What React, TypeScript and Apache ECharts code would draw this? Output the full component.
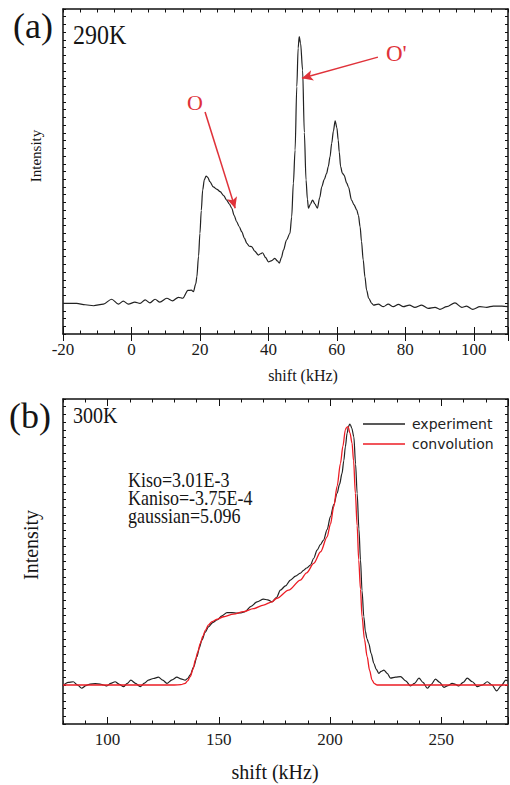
import React, { useEffect, useRef } from "react";
import * as echarts from "echarts";

// ---- Panel (a): 290K spectrum ----
const shiftA = [
  -20, -16, -13.5, -11.1, -8.2, -5.8, -3.8, -2.4, -0.9, 1.0, 2.5, 4.0, 5.4, 6.9, 8.3, 10.3, 12.0, 13.7,
  15.0, 16.5, 17.5, 18.1, 18.8, 19.1, 19.6, 20.0, 20.4, 20.8, 21.3, 21.8, 22.3, 22.9, 23.9, 25.0, 25.9,
  27.0, 27.8, 28.6, 29.3, 30.0, 30.7, 31.5, 32.2, 33.0, 33.7, 34.4, 35.1, 36.0, 37.1, 37.7, 38.3, 39.2,
  40.0, 41.0, 41.9, 42.6, 43.2, 43.8, 44.4, 45.3, 46.3, 46.8, 47.3, 47.8, 48.3, 48.7, 49.0, 49.4, 50.0,
  50.5, 51.0, 51.4, 51.7, 52.3, 52.9, 53.6, 54.3, 55.0, 55.6, 56.3, 57.0, 57.5, 58.0, 58.5, 59.0, 59.5,
  60.0, 60.4, 60.7, 61.1, 61.6, 62.1, 62.9, 63.4, 64.3, 65.0, 65.8, 66.3, 66.8, 67.2, 67.7, 68.2, 68.7,
  69.3, 70.2, 70.7, 72.1, 73.6, 75.0, 76.5, 78.0, 79.4, 81.2, 82.8, 84.8, 86.7, 88.7, 90.1, 92.1, 94.5,
  96.5, 97.9, 99.7, 101.8, 103.8, 105.7, 108.2, 110,
];
const intensityA = [
  9.4, 9.4, 9.0, 8.7, 9.2, 10.7, 9.2, 10.1, 9.2, 9.8, 9.4, 10.5, 9.6, 10.7, 9.8, 11.0, 10.2, 11.3,
  11.0, 13.4, 13.5, 13.0, 15.5, 17.6, 24, 31.0, 38, 44.3, 47.5, 48.6, 48.2, 46.9, 45.3, 44.5, 43.8,
  42.5, 41.2, 40.0, 38.7, 36.5, 34.6, 33.0, 31.5, 29.5, 27.9, 27.0, 26.9, 25.5, 24.3, 24.7, 25.0, 23.5,
  22.2, 22.6, 23.3, 22.5, 21.8, 23.5, 25.8, 28.9, 31.0, 36, 46.4, 56.6, 76.1, 88, 91.5, 89.5, 81.2,
  62, 47.4, 41.5, 38.7, 40.0, 41.2, 40.0, 38.7, 42, 45.3, 47.5, 49.4, 51.5, 54.5, 58.7, 62.5, 65.6,
  63.5, 59.7, 56, 51.5, 49.5, 48.9, 46.4, 45.2, 41.2, 39.8, 38.2, 36.5, 33.0, 28.5, 22.8, 17.6, 13.5,
  11.0, 9.4, 8.9, 9.2, 8.4, 9.2, 8.4, 9.1, 8.4, 8.9, 8.2, 8.9, 7.9, 8.2, 7.6, 8.4, 9.6,
  8.2, 8.6, 7.6, 8.4, 8.2, 8.6, 8.6, 8.4,
];

// ---- Panel (b): 300K experiment vs convolution ----
const shiftExp = [
  80, 82.3, 84.6, 86.5, 88.4, 90.3, 92.2, 94.5, 96.7, 98.2, 99.7, 101.5, 103.4, 105.3, 107.2, 108.9,
  110.5, 112.6, 114.7, 116.6, 118.4, 120.6, 122.9, 124.8, 126.7, 129, 131.2, 133, 134.9, 136, 137.2,
  138.7, 140.2, 141.3, 142.4, 143.9, 145.4, 147.3, 149.2, 151.5, 153.7, 155.9, 158.2, 160.0, 161.9,
  164.5, 167.2, 170.1, 172, 173.9, 176, 177.7, 180, 182.2, 184.5, 186.7, 188.1, 189.5, 191.2, 192.7,
  194.2, 195.7, 197.1, 198.7, 200.2, 201.7, 203.2, 204.3, 205.4, 206.2, 206.9, 207.7, 208.3, 208.9,
  209.2, 209.8, 210.7, 211.5, 212.2, 213.0, 213.7, 214.4, 215.2, 215.9, 216.6, 217.4, 218.5, 219.7,
  220.8, 221.9, 223, 224.2, 225.7, 227.2, 229.5, 231.7, 234, 236.2, 238, 240, 241.8, 243.7, 245.5,
  247.4, 249.3, 251.2, 253, 254.9, 256.4, 257.9, 259.8, 261.7, 264, 266.2, 268.5, 270.7, 272.8, 274.9,
  277, 279, 280,
];
const intensityExp = [
  11.7, 12.8, 13.0, 12.0, 11.0, 11.8, 12.3, 12.4, 12.3, 12.0, 11.7, 12.5, 13.0, 12.2, 11.5, 12.5,
  13.5, 12.5, 11.5, 12.6, 13.5, 14.0, 14.4, 13.5, 12.5, 13.6, 14.4, 13.9, 13.5, 14.0, 15.1,
  17.5, 20.7, 23.5, 25.8, 28.2, 29.9, 31.2, 32, 33.3, 34.3, 34.3, 34.1, 34.2, 34.6,
  36.2, 37.6, 38.4, 38.2, 37.6, 39.0, 41.2, 42.5, 44.3, 45.5, 46.4, 47.3, 48.0, 48.9, 51,
  53.5, 55.2, 56.6, 59.8, 63.8, 67.5, 71, 73.8, 77.1, 81, 85.3, 89.5, 91.5, 92.3,
  92.0, 91, 88.4, 80, 71, 60, 50.5, 41, 33, 28.5, 26.3, 24.8, 21.7, 18.7,
  16.8, 15.6, 16.2, 16.6, 15.6, 14.1, 14.4, 14.6, 13.3, 11.7, 12.5, 14.1, 12.8, 11, 12.2,
  13.8, 12.8, 11.3, 11.8, 12.5, 12.2, 11.7, 12.8, 14.1, 13.0, 11.5, 12.0, 13, 12.0, 10.2,
  11.8, 13.5, 13.2,
];
const shiftConv = [
  80, 100, 120, 130, 133, 134.9, 136, 137.2, 138.4, 139.5, 140.6, 141.7, 142.9, 144.0, 145.4, 147.0,
  149.5, 152.2, 156.6, 161.2, 165.6, 170.1, 173.9, 176.1, 181.4, 186.7, 189.5, 192.7, 195.8, 198.7,
  200.2, 201.7, 203.2, 204.7, 205.8, 206.9, 207.5, 208.1, 209.0, 209.9, 210.6, 211.4, 212.2, 212.9,
  213.7, 214.4, 215.5, 216.7, 217.8, 218.9, 220.0, 221.2, 225, 250, 280,
];
const intensityConv = [
  12.0, 12.0, 12.0, 12.0, 12.1, 12.5, 13.3, 14.6, 16.8, 19.7, 22.2, 24.8, 27.0, 28.9, 30.5, 31.5,
  32.3, 33.0, 33.8, 34.6, 35.5, 36.6, 37.6, 38.7, 41.2, 44.3, 46.5, 49.4, 53, 57.6,
  61.5, 66.9, 73.2, 80.2, 85.5, 90.5, 91.3, 91.5, 89.5, 86.4, 81, 71, 61, 50.5,
  41.5, 33, 26, 20.7, 16.5, 13.5, 12.4, 12.0, 12.0, 12.0, 12.0,
];

const seriesNamesB = ["experiment", "convolution"];

const serif = "Liberation Serif";
const ink = "#111111";
const red = "#e0323a";
const redLine = "#ec1c24";

// Axis with fine ticks (and optionally labels every `step`)
function minorX(grid: number, pos: string, min: number, max: number, interval: number, step: number | null) {
  return {
    type: "value",
    gridIndex: grid,
    position: pos,
    min,
    max,
    interval,
    axisLine: { show: true, onZero: false, lineStyle: { color: ink, width: 1.5 } },
    axisTick: { show: true, inside: true, length: 3.5, lineStyle: { color: ink, width: 1 } },
    axisLabel: step
      ? {
          show: true,
          fontFamily: serif,
          fontSize: 17,
          color: "#1a1a1a",
          margin: 7,
          showMaxLabel: false,
          formatter: (v: number) => (Math.abs(v % step) < 1e-6 ? String(v) : ""),
        }
      : { show: false },
    splitLine: { show: false },
  };
}

// Axis drawing only the long (major) ticks
function majorX(grid: number, pos: string, min: number, max: number, interval: number) {
  return {
    type: "value",
    gridIndex: grid,
    position: pos,
    min,
    max,
    interval,
    axisLine: { show: false },
    axisTick: { show: true, inside: true, length: 7, lineStyle: { color: ink, width: 1 } },
    axisLabel: { show: false },
    splitLine: { show: false },
  };
}

function yAx(grid: number, pos: string, hidden = false) {
  return {
    type: "value",
    gridIndex: grid,
    position: pos,
    min: 0,
    max: 100,
    interval: 100 / 42,
    show: !hidden,
    axisLine: { show: !hidden, onZero: false, lineStyle: { color: ink, width: 1.5 } },
    axisTick: { show: !hidden, inside: true, length: 3, lineStyle: { color: ink, width: 1 } },
    axisLabel: { show: false },
    splitLine: { show: false },
  };
}

function txt(text: string, x: number, y: number, size: number, opts: any = {}) {
  return {
    type: "text",
    x,
    y,
    rotation: opts.rotation || 0,
    scaleY: opts.scaleY || 1,
    scaleX: opts.scaleX || 1,
    silent: true,
    style: {
      text,
      fontFamily: opts.family || serif,
      fontSize: size,
      fill: opts.color || "#151515",
      align: opts.align || "left",
      verticalAlign: "middle",
    },
  };
}

export default function App() {
  const ref = useRef<HTMLDivElement>(null);
  useEffect(() => {
    if (!ref.current) return;
    const chart = echarts.init(ref.current, null, { renderer: "svg" });
    const pairs = (xs: number[], ys: number[]) => xs.map((x, i) => [x, ys[i]]);
    // panel (b) scale: 445 px for 200 kHz; grid 2 extends it down to 0 kHz (off-canvas) for major ticks
    const pxPerKHz = 445 / 200;
    chart.setOption({
      animation: false,
      backgroundColor: "#ffffff",
      grid: [
        { left: 63, top: 9, width: 445, height: 325, containLabel: false, outerBoundsMode: "none" },
        { left: 63, top: 399, width: 445, height: 325, containLabel: false, outerBoundsMode: "none" },
        {
          left: 63 - 80 * pxPerKHz,
          top: 399,
          width: 280 * pxPerKHz,
          height: 325,
          containLabel: false,
          outerBoundsMode: "none",
        },
      ],
      xAxis: [
        minorX(0, "bottom", -20, 110, 5, 20),
        majorX(0, "bottom", -20, 110, 20),
        minorX(0, "top", -20, 110, 5, null),
        majorX(0, "top", -20, 110, 20),
        minorX(1, "bottom", 80, 280, 10, 50),
        minorX(1, "top", 80, 280, 10, null),
        majorX(2, "bottom", 0, 280, 50),
        majorX(2, "top", 0, 280, 50),
      ],
      yAxis: [yAx(0, "left"), yAx(0, "right"), yAx(1, "left"), yAx(1, "right"), yAx(2, "left", true)],
      legend: {
        data: seriesNamesB,
        orient: "vertical",
        left: 363,
        top: 416,
        icon: "rect",
        itemWidth: 42,
        itemHeight: 1.5,
        itemGap: 4,
        padding: 0,
        textStyle: {
          fontFamily: "DejaVu Sans",
          fontSize: 14,
          lineHeight: 16,
          color: "#222",
          padding: [0, 0, 0, 2],
        },
        selectedMode: false,
      },
      series: [
        {
          name: "290K",
          type: "line",
          xAxisIndex: 0,
          yAxisIndex: 0,
          data: pairs(shiftA, intensityA),
          symbol: "none",
          smooth: 0.3,
          smoothMonotone: "x",
          lineStyle: { color: "#222", width: 1.2 },
          markLine: {
            silent: true,
            symbol: ["none", "arrow"],
            symbolSize: [8, 11],
            label: { show: false },
            lineStyle: { color: red, width: 1.5, type: "solid" },
            emphasis: { disabled: true },
            data: [
              [{ coord: [21.5, 68.3] }, { coord: [30.3, 38.7] }],
              [{ coord: [72.0, 85.2] }, { coord: [49.8, 78.7] }],
            ],
          },
        },
        {
          name: seriesNamesB[0],
          type: "line",
          xAxisIndex: 4,
          yAxisIndex: 2,
          data: pairs(shiftExp, intensityExp),
          symbol: "none",
          smooth: 0.3,
          smoothMonotone: "x",
          color: "#222",
          lineStyle: { color: "#222", width: 1.2 },
        },
        {
          name: seriesNamesB[1],
          type: "line",
          xAxisIndex: 4,
          yAxisIndex: 2,
          data: pairs(shiftConv, intensityConv),
          symbol: "none",
          smooth: 0.3,
          smoothMonotone: "x",
          color: redLine,
          lineStyle: { color: redLine, width: 1.3 },
        },
      ],
      graphic: [
        txt("(a)", 13, 26, 36),
        txt("290K", 73, 35, 24, { scaleY: 1.1 }),
        txt("O", 195, 102, 22, { color: red, align: "center" }),
        txt("O'", 386, 53, 23, { color: red }),
        txt("Intensity", 36, 156, 15, { rotation: Math.PI / 2, align: "center" }),
        txt("shift (kHz)", 303, 375, 16, { align: "center" }),
        txt("(b)", 9, 416, 36),
        txt("300K", 73, 415, 20, { scaleY: 1.2 }),
        txt("Kiso=3.01E-3", 128, 480, 18, { scaleY: 1.15 }),
        txt("Kaniso=-3.75E-4", 128, 498, 18, { scaleY: 1.15 }),
        txt("gaussian=5.096", 128, 516, 18, { scaleY: 1.15 }),
        txt("Intensity", 31, 545, 20, { rotation: Math.PI / 2, align: "center" }),
        txt("shift (kHz)", 275, 772, 20, { align: "center" }),
      ],
    });
    return () => chart.dispose();
  }, []);
  return (
    <div
      ref={ref}
      style={{ position: "absolute", left: 0, top: 0, width: 510, height: 785, background: "#fff" }}
    />
  );
}
